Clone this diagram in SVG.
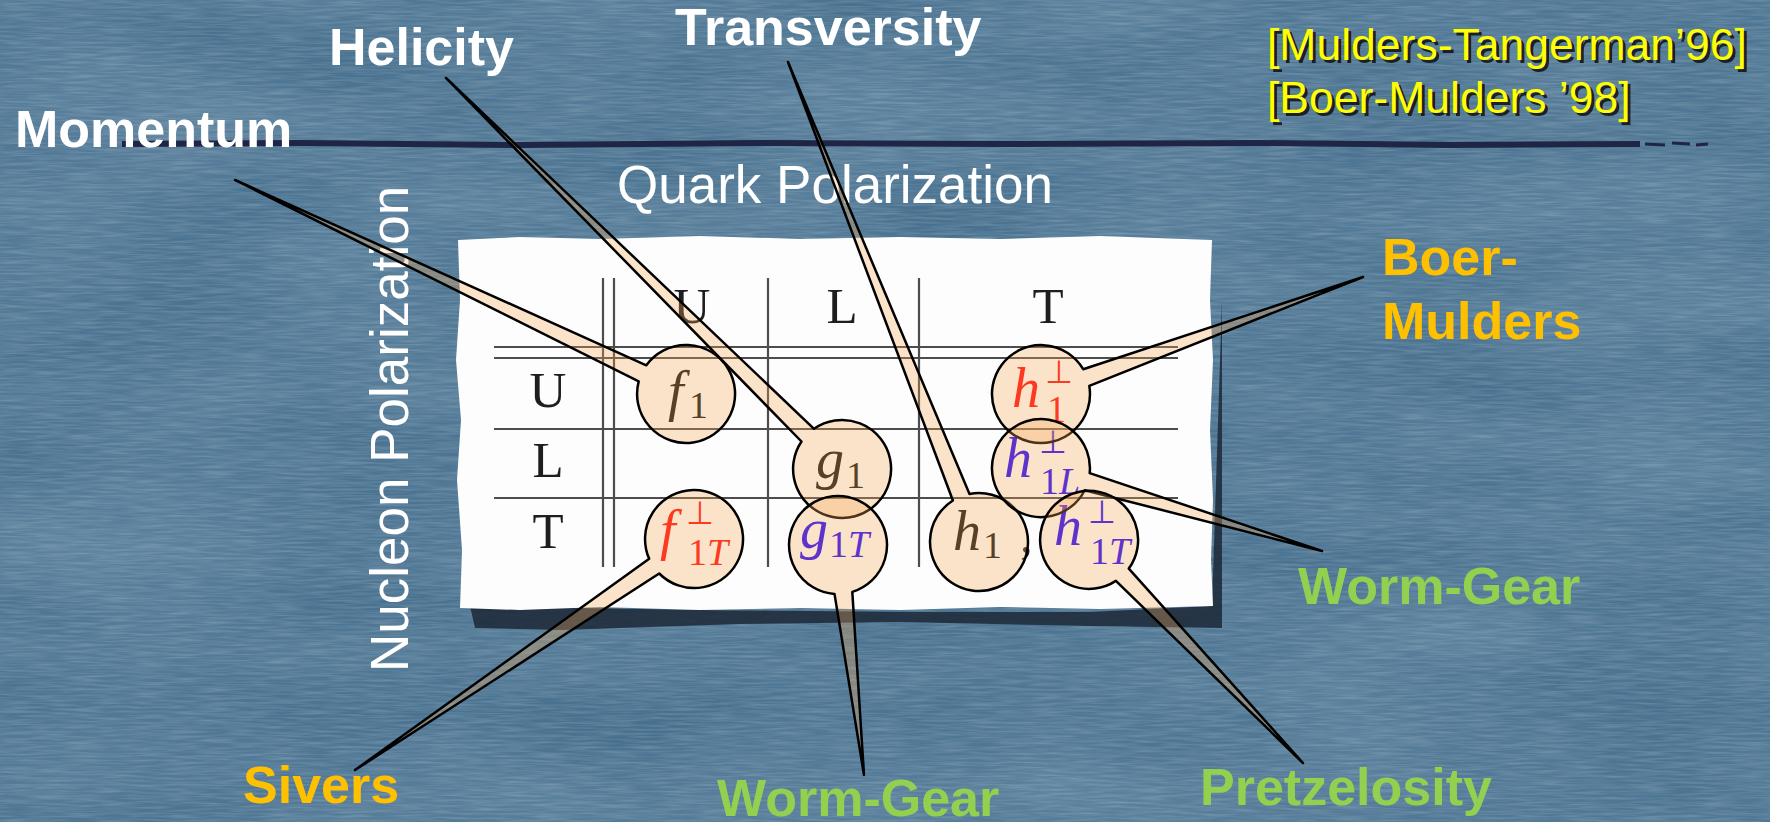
<svg xmlns="http://www.w3.org/2000/svg" width="1770" height="822" viewBox="0 0 1770 822">
<defs>
<style>
.lbl{font-family:"Liberation Sans",Arial,sans-serif;font-weight:bold;font-size:52px}
.w{fill:#ffffff}.o{fill:#ffc000}.g{fill:#92d050}
.reg{font-family:"Liberation Sans",Arial,sans-serif;font-size:53px;fill:#ffffff}
.ref{font-family:"Liberation Sans",Arial,sans-serif;font-size:44.5px}
.tl{font-family:"Liberation Serif","Times New Roman",serif;font-size:51px;fill:#1e1e1e}
.mi{font-family:"Liberation Serif","Times New Roman",serif;font-style:italic;font-size:56px}
.sub{font-family:"Liberation Serif","Times New Roman",serif;font-size:38px}
.perp{font-family:"DejaVu Sans",sans-serif;font-size:32px}
.k{fill:#141414}.r{fill:#ff0a0a}.b{fill:#1a00ff}
.co{fill:#f8a855;fill-opacity:0.3;stroke:#000;stroke-width:2.5;stroke-linejoin:round}
.grid{stroke:#4d4d4d;stroke-width:2.2;fill:none}
</style>
<filter id="tex" x="0" y="0" width="100%" height="100%">
<feTurbulence type="fractalNoise" baseFrequency="0.03 0.45" numOctaves="2" seed="7"/>
<feColorMatrix type="matrix" values="0 0 0 0 1  0 0 0 0 1  0 0 0 0 1  0.34 0 0 0 -0.12"/>
</filter>
<filter id="tex2" x="0" y="0" width="100%" height="100%">
<feTurbulence type="fractalNoise" baseFrequency="0.004 0.012" numOctaves="2" seed="3"/>
<feColorMatrix type="matrix" values="0 0 0 0 0.8  0 0 0 0 0.9  0 0 0 0 1  0.22 0 0 0 -0.05"/>
</filter>
</defs>
<g id="background">
<rect width="1770" height="822" fill="#48718f"/>
<rect width="1770" height="822" fill="#fff" filter="url(#tex2)"/>
<rect width="1770" height="822" fill="#fff" filter="url(#tex)"/>
<path d="M122,144 L300,143 L520,145 L760,143 L1000,144 L1260,143 L1450,145 L1640,144" stroke="#1f2545" stroke-width="6" fill="none"/>
<path d="M1645,144 L1665,145 M1672,143 L1690,144 M1696,145 L1708,144" stroke="#1f2545" stroke-width="3" fill="none"/>
</g>
<g id="paper">
<path d="M470,606 L700,610 L900,612 L1090,612 L1212,606 L1222,300 L1222,628 L1090,626 L900,622 L740,624 L560,630 L475,628 Z" fill="#1c2836" opacity="0.85"/>
<path d="M458,240 L520,237 L600,239 L700,236 L800,239 L900,237 L1000,239 L1100,236 L1212,240 L1210,300 L1213,360 L1210,430 L1213,500 L1211,560 L1213,606 L1100,609 L1000,607 L900,610 L800,608 L700,610 L600,607 L520,610 L460,608 L462,550 L457,480 L461,420 L456,360 L460,300 Z" fill="#fdfdfd"/>
</g>
<g id="table">
<path class="grid" d="M603,278 V567 M614,278 V567 M768,278 V567 M919,278 V567 M494,347 H1178 M494,358 H1178 M494,429 H1178 M494,498 H1178"/>
<text class="tl" x="692" y="323" text-anchor="middle">U</text>
<text class="tl" x="842" y="323" text-anchor="middle">L</text>
<text class="tl" x="1048" y="323" text-anchor="middle">T</text>
<text class="tl" x="548" y="407" text-anchor="middle">U</text>
<text class="tl" x="548" y="477" text-anchor="middle">L</text>
<text class="tl" x="548" y="548" text-anchor="middle">T</text>
<text class="mi k" x="668" y="410">f</text><text class="sub k" x="689" y="418">1</text>
<text class="mi k" x="816" y="478">g</text><text class="sub k" x="846" y="488">1</text>
<text class="mi k" x="953" y="550">h</text><text class="sub k" x="983" y="558">1</text>
<text class="tl" x="1020" y="552">,</text>
<text class="mi r" x="660" y="549">f</text><text class="perp r" x="686" y="524">⊥</text><text class="sub r" x="688" y="565">1<tspan font-style="italic">T</tspan></text>
<text class="mi b" x="800" y="548">g</text><text class="sub b" x="829" y="557">1<tspan font-style="italic">T</tspan></text>
<text class="mi r" x="1012" y="407">h</text><text class="perp r" x="1045" y="383">⊥</text><text class="sub r" x="1047" y="422">1</text>
<text class="mi b" x="1004" y="477">h</text><text class="perp b" x="1039" y="453">⊥</text><text class="sub b" x="1040" y="494">1<tspan font-style="italic">L</tspan></text>
<text class="mi b" x="1054" y="545">h</text><text class="perp b" x="1088" y="523">⊥</text><text class="sub b" x="1090" y="564">1<tspan font-style="italic">T</tspan></text>
</g>
<g id="axis-labels">
<text class="reg" x="617" y="203">Quark Polarization</text>
<text class="reg" transform="translate(408,672) rotate(-90)">Nucleon Polarization</text>
</g>
<g id="references">
<text class="ref" x="1270" y="63" fill="#101010" opacity="0.85">[Mulders-Tangerman’96]</text>
<text class="ref" x="1267" y="60" fill="#ffff00">[Mulders-Tangerman’96]</text>
<text class="ref" x="1270" y="116" fill="#101010" opacity="0.85">[Boer-Mulders ’98]</text>
<text class="ref" x="1267" y="113" fill="#ffff00">[Boer-Mulders ’98]</text>
</g>
<g id="connectors">
<path id="c-f1" class="co" d="M235,180 L646.3,365.3 A49,49 0 1 1 638.7,381.4 Z"/>
<path id="c-g1" class="co" d="M446,78 L814.0,428.8 A49,49 0 1 1 801.5,441.5 Z"/>
<path id="c-h1" class="co" d="M788,62 L969.5,493.9 A49,49 0 1 1 952.9,500.5 Z"/>
<path id="c-h1perp" class="co" d="M1363,277 L1089.3,385.9 A49,49 0 1 1 1083.2,369.2 Z"/>
<path id="c-h1L" class="co" d="M1322,551 L1084.7,490.2 A49,49 0 1 1 1089.7,473.1 Z"/>
<path id="c-f1T" class="co" d="M355,770 L649.2,558.8 A49,49 0 1 1 659.2,573.5 Z"/>
<path id="c-g1T" class="co" d="M864,775 L834.5,593.9 A49,49 0 1 1 852.3,591.9 Z"/>
<path id="c-h1T" class="co" d="M1303,763 L1115.9,580.9 A49,49 0 1 1 1128.8,568.6 Z"/>
</g>
<g id="n-momentum"><text class="lbl w" x="15" y="147">Momentum</text></g>
<g id="n-helicity"><text class="lbl w" x="329" y="65">Helicity</text></g>
<g id="n-transversity"><text class="lbl w" x="675" y="45">Transversity</text></g>
<g id="n-boer-mulders"><text class="lbl o" x="1382" y="275">Boer-</text><text class="lbl o" x="1382" y="339">Mulders</text></g>
<g id="n-worm-gear-right"><text class="lbl g" x="1298" y="604">Worm-Gear</text></g>
<g id="n-sivers"><text class="lbl o" x="243" y="803">Sivers</text></g>
<g id="n-worm-gear-bottom"><text class="lbl g" x="717" y="816">Worm-Gear</text></g>
<g id="n-pretzelosity"><text class="lbl g" x="1200" y="805">Pretzelosity</text></g>
</svg>
